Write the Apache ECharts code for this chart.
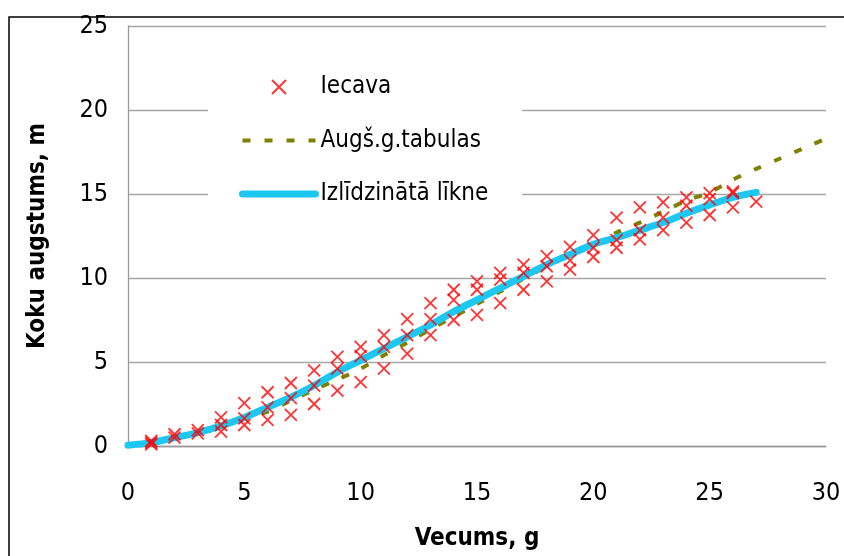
<!DOCTYPE html>
<html><head><meta charset="utf-8">
<script src="https://cdn.jsdelivr.net/npm/echarts@6/dist/echarts.min.js"></script>
<style>html,body{margin:0;padding:0;background:#fff}#c{width:844px;height:556px}</style>
</head><body><div id="c"></div>
<script>
// Iecava measurements (age, height)
const iecavaAge = [1,1,1, 2,2, 3,3, 4,4,4, 5,5,5, 6,6,6, 7,7,7, 8,8,8, 9,9,9, 10,10,10, 11,11,11, 12,12,12, 13,13,13,
  14,14,14, 15,15,15, 16,16,16, 17,17,17, 18,18,18, 19,19,19, 20,20,20, 21,21,21, 22,22,22, 23,23,23, 24,24,24, 25,25,25, 26,26,26, 27];
const iecavaHeight = [0.1,0.2,0.3, 0.5,0.7, 0.75,0.95, 1.7,1.25,0.85, 2.55,1.65,1.25, 3.2,2.3,1.55, 3.75,2.85,1.85,
  4.5,3.6,2.5, 5.3,4.6,3.3, 5.9,5.35,3.8, 6.6,5.9,4.6, 7.55,6.6,5.5, 8.5,7.55,6.6,
  9.3,8.7,7.5, 9.8,9.3,7.8, 10.3,9.9,8.5, 10.8,10.3,9.3, 11.3,10.7,9.8, 11.85,11.05,10.5,
  12.55,11.8,11.25, 13.6,12.25,11.8, 14.2,12.85,12.3, 14.5,13.6,12.85, 14.8,14.3,13.3,
  15.05,14.7,13.75, 15.15,15.05,14.2, 14.55];
// Growth tables
const tabAge = [3,4,5,6,7,8,9,10,11,12,13,14,15,16,17,18,19,20,21,22,23,24,25,26,27,28,29,30];
const tabHeight = [0.9,1.25,1.6,2.05,2.7,3.35,3.95,4.6,5.4,6.15,6.95,7.7,8.45,9.2,9.95,10.7,11.4,12.0,12.7,13.3,13.95,14.6,15.1,15.85,16.5,17.1,17.7,18.3];
// Fitted curve
const fitAge = [0,1,2,3,4,5,6,7,8,9,10,11,12,13,14,15,16,17,18,19,20,21,22,23,24,25,26,27];
const fitHeight = [0.05,0.2,0.5,0.8,1.2,1.7,2.3,2.9,3.6,4.4,5.1,5.8,6.5,7.2,8.0,8.7,9.4,10.1,10.8,11.4,12.0,12.4,12.85,13.3,13.85,14.35,14.8,15.1];
const xTicks = [0,5,10,15,20,25,30];
const yTicks = [0,5,10,15,20,25];
const seriesNames = ['Iecava','Augš.g.tabulas','Izlīdzinātā līkne'];

const FONT = "'Liberation Sans Narrow','DejaVu Sans Condensed','Open Sans',sans-serif";
const OLIVE = '#808000', CYAN = '#1cc8f2';
const chart = echarts.init(document.getElementById('c'), null, {renderer:'canvas'});
const zip = (a,b)=>a.map((v,i)=>[v,b[i]]);
const noSym = {color:'rgba(0,0,0,0)', borderColor:'rgba(0,0,0,0)', borderWidth:0};
chart.setOption({
  animation:false,
  backgroundColor:'#fff',
  textStyle:{fontFamily:FONT},
  graphic:[{type:'rect', shape:{x:9,y:17,width:900,height:600}, style:{fill:'none',stroke:'#000',lineWidth:1.5}, z:-1}],
  grid:{left:128, top:26, right:18, bottom:110},
  legend:{
    orient:'vertical', left:208, top:50,
    padding:[25,34,25,31],
    backgroundColor:'#fff',
    itemWidth:73, itemHeight:14, itemGap:29.5,
    textStyle:{fontFamily:FONT, fontSize:24, color:'#000'},
    data:[
      {name:seriesNames[0]},
      {name:seriesNames[1], itemStyle:noSym, lineStyle:{color:OLIVE, width:4, type:[8,14]}},
      {name:seriesNames[2], itemStyle:noSym, lineStyle:{color:CYAN, width:7, cap:'round'}}
    ]
  },
  xAxis:{
    type:'value', min:0, max:30, interval:5,
    name:'Vecums, g', nameLocation:'middle', nameGap:81,
    nameTextStyle:{fontFamily:FONT, fontSize:24, fontWeight:'bold', color:'#000'},
    axisLine:{show:true, lineStyle:{color:'#999', width:1.3}},
    axisTick:{show:false},
    axisLabel:{fontFamily:FONT, fontSize:25, color:'#000', margin:35, formatter:v=>xTicks.includes(v)?String(v):''},
    splitLine:{show:false}
  },
  yAxis:{
    type:'value', min:0, max:25, interval:5,
    name:'Koku augstums, m', nameLocation:'middle', nameGap:78, nameRotate:90,
    nameTextStyle:{fontFamily:FONT, fontSize:24, fontWeight:'bold', color:'#000'},
    axisLine:{show:true, lineStyle:{color:'#999', width:1.3}},
    axisTick:{show:false},
    axisLabel:{fontFamily:FONT, fontSize:25, color:'#000', margin:20, formatter:v=>yTicks.includes(v)?String(v):''},
    splitLine:{show:true, lineStyle:{color:'#a6a6a6', width:1.3}}
  },
  series:[
    {name:seriesNames[0], type:'scatter', data:zip(iecavaAge,iecavaHeight), z:5,
     symbol:'path://M0,0L10,10M10,0L0,10', symbolSize:12,
     itemStyle:{color:'rgba(0,0,0,0)', borderColor:'#ff0000', borderWidth:1.8}},
    {name:seriesNames[1], type:'line', data:zip(tabAge,tabHeight), smooth:0.3, showSymbol:false, symbol:'none', z:3,
     lineStyle:{color:OLIVE, width:4, type:[8,14]}, itemStyle:{color:OLIVE}},
    {name:seriesNames[2], type:'line', data:zip(fitAge,fitHeight), smooth:0.3, showSymbol:false, symbol:'none', z:4,
     lineStyle:{color:CYAN, width:7, cap:'round'}, itemStyle:{color:CYAN}}
  ]
});
</script></body></html>
